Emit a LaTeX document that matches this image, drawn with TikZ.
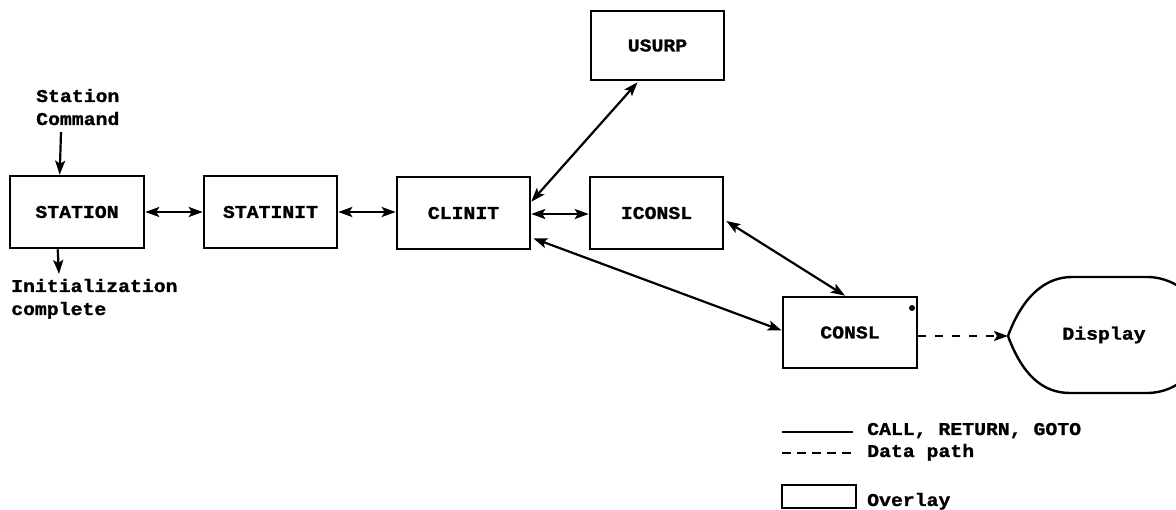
\documentclass[tikz,border=0pt]{standalone}
\usepackage{fontspec}
\newfontfamily\monobold[FakeStretch=1.1,FakeBold=1.2]{Liberation Mono Bold}
\usetikzlibrary{arrows.meta,calc}
\begin{document}
\begin{tikzpicture}[x=1pt,y=-1pt,
  every node/.style={font=\monobold\fontsize{18}{23}\selectfont},
  module/.style={draw,line width=2.6pt,rectangle,inner sep=0pt,
    minimum width=133pt,minimum height=72pt},
  plain/.style={inner sep=0pt},
  hd/.tip={Stealth[length=14pt,width=10pt,inset=3pt]},
  link/.style={line width=2.2pt,hd-hd},
  into/.style={line width=2.2pt,-hd},
  data/.style={line width=2.2pt,-hd,dash pattern=on 8pt off 9pt},
]
\useasboundingbox (0,0) rectangle (1176,510);
\clip (0,0) rectangle (1176,510);

% modules
\node[module,minimum width=134pt] (station) at (77,212) {STATION};
\node[module] (statinit) at (270.5,212) {STATINIT};
\node[module] (clinit) at (463.5,213) {CLINIT};
\node[module] (iconsl) at (656.5,213) {ICONSL};
\node[module,minimum height=69pt] (usurp) at (657.5,45.5) {USURP};
\node[module,minimum width=134pt,minimum height=71pt] (consl) at (850,332.5) {CONSL};
\fill (912,308) circle (3pt);

% display device
\coordinate (dispL) at (1008,336);
\draw[line width=2.4pt] (dispL) .. controls (1022,298) and (1044,277) .. (1072,277)
  -- (1147,277) arc[start angle=-90,end angle=90,radius=58]
  -- (1070,393) .. controls (1042,393) and (1022,374) .. (dispL);
\node[plain] (disp) at (1104,335) {Display};

% external inputs and outputs
\node[plain,anchor=base west] (cmd1) at (36,102) {Station};
\node[plain,anchor=base west] (cmd2) at (36,125) {Command};
\coordinate (cmdin) at (61,132);
\draw[into] (cmdin) -- ($(station.north west)+(51,0)$);

\node[plain,anchor=base west] (init1) at (11,292) {Initialization};
\node[plain,anchor=base west] (init2) at (11,315) {complete};
\coordinate (initout) at (59,274);
\draw[into] ($(station.south west)+(49,0)$) -- (initout);

% calls
\draw[link] (station.east) -- (statinit.west);
\draw[link] (statinit.east) -- (statinit.east -| clinit.west);
\draw[link] ($(clinit.east)+(0,1)$) -- ($(iconsl.west)+(0,1)$);
\draw[link] ($(clinit.north east)+(0,26)$) -- ($(usurp.south)+(-20,1)$);
\draw[link] ($(clinit.south east)+(2,-12)$) -- ($(consl.west)+(0,-2)$);
\draw[link] ($(iconsl.east)+(2,8)$) -- ($(consl.north)+(-5,0)$);
\draw[data] (consl.east |- dispL) -- (dispL);

% legend
\coordinate (l1a) at (782,432); \coordinate (l1b) at (853,432);
\coordinate (l2a) at (782,453); \coordinate (l2b) at (853,453);
\draw[line width=2pt] (l1a) -- (l1b);
\draw[line width=2pt,dash pattern=on 9pt off 6pt] (l2a) -- (l2b);
\node[plain,anchor=base west] (lg1) at (867,435) {CALL, RETURN, GOTO};
\node[plain,anchor=base west] (lg2) at (867,457) {Data path};
\node[draw,line width=2.4pt,inner sep=0pt,minimum width=74pt,minimum height=23pt] (lgbox) at (819,496.5) {};
\node[plain,anchor=base west] (lg3) at (867,506) {Overlay};
\end{tikzpicture}
\end{document}
